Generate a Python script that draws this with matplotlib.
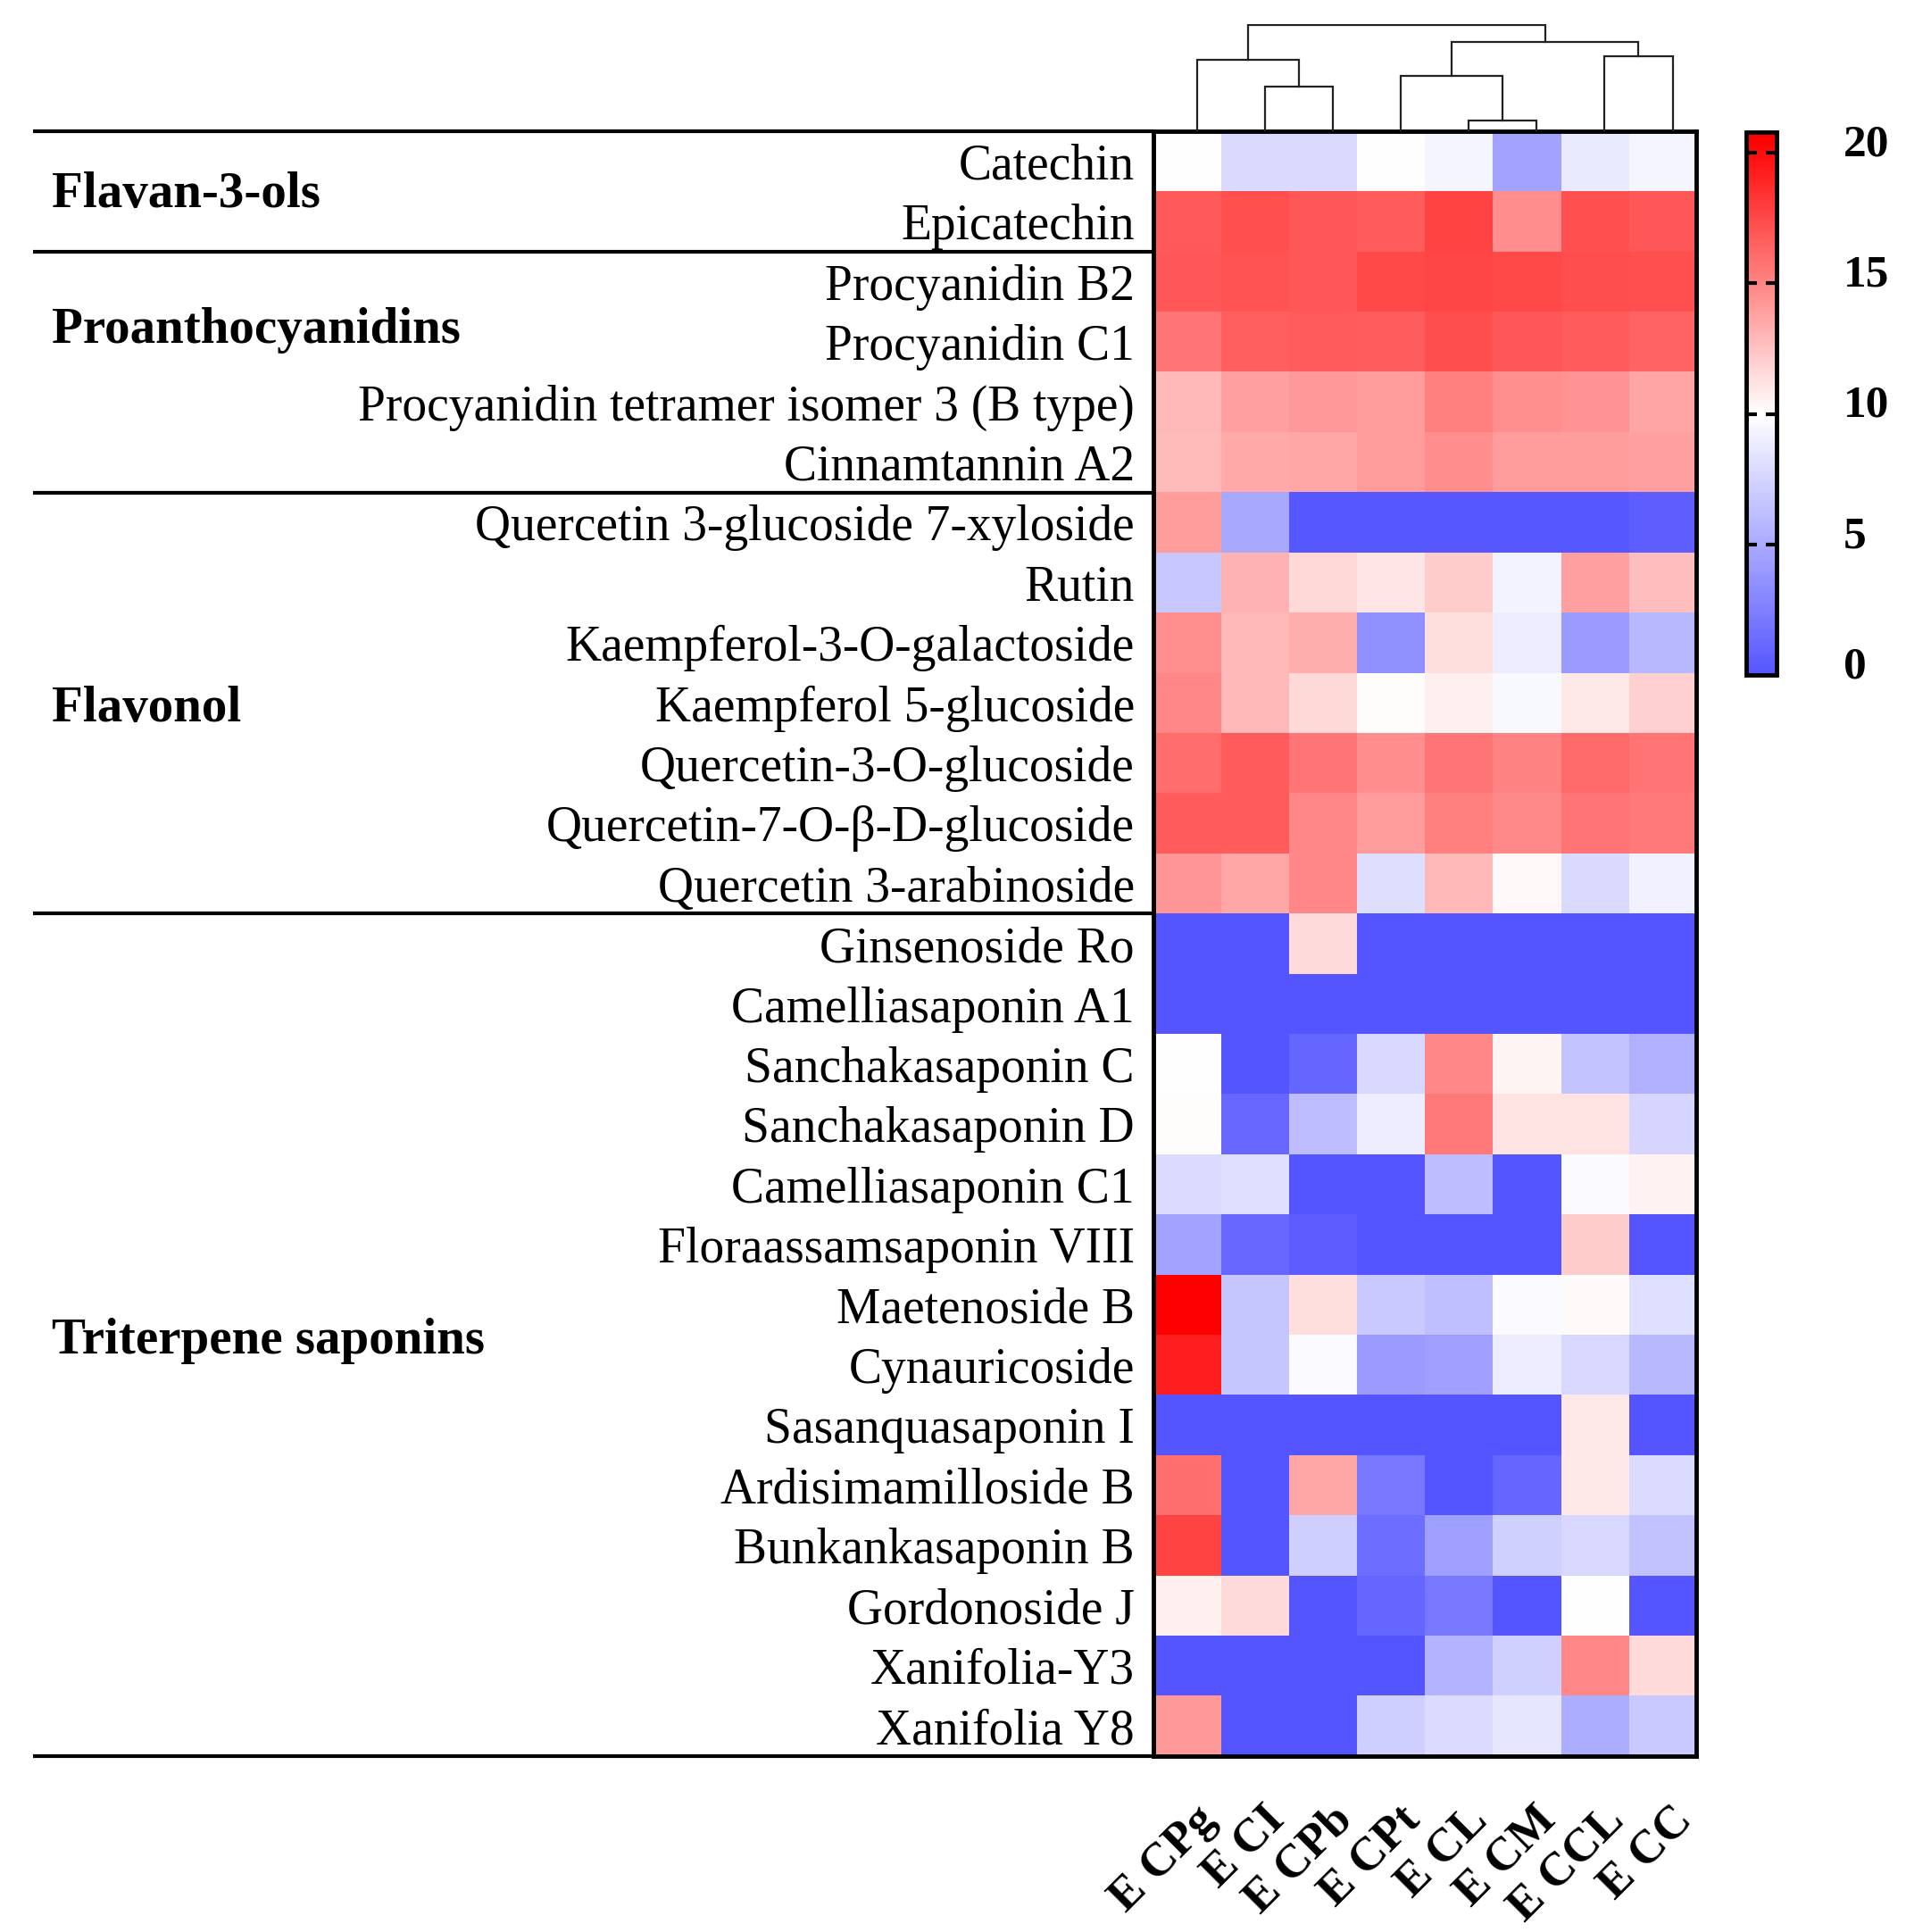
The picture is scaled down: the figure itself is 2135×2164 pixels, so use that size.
import numpy as np
import matplotlib
matplotlib.use("Agg")
import matplotlib.pyplot as plt
from matplotlib.colors import LinearSegmentedColormap
import matplotlib.transforms as mtransforms

plt.rcParams['font.family'] = ['Liberation Serif', 'DejaVu Serif']

# samples (columns) in dendrogram order
samples = ["E CPg", "E CI", "E CPb", "E CPt", "E CL", "E CM", "E CCL", "E CC"]

compounds = [
    "Catechin", "Epicatechin",
    "Procyanidin B2", "Procyanidin C1", "Procyanidin tetramer isomer 3 (B type)",
    "Cinnamtannin A2",
    "Quercetin 3-glucoside 7-xyloside", "Rutin", "Kaempferol-3-O-galactoside",
    "Kaempferol 5-glucoside", "Quercetin-3-O-glucoside",
    "Quercetin-7-O-β-D-glucoside", "Quercetin 3-arabinoside",
    "Ginsenoside Ro", "Camelliasaponin A1", "Sanchakasaponin C",
    "Sanchakasaponin D", "Camelliasaponin C1", "Floraassamsaponin VIII",
    "Maetenoside B", "Cynauricoside", "Sasanquasaponin I",
    "Ardisimamilloside B", "Bunkankasaponin B", "Gordonoside J",
    "Xanifolia-Y3", "Xanifolia Y8",
]

groups = ["Flavan-3-ols", "Proanthocyanidins", "Flavonol", "Triterpene saponins"]
group_sizes = [2, 4, 7, 14]

values = np.array([
    [10.0, 7.8, 7.8, 10.0, 9.5, 4.6, 8.8, 9.5],
    [16.8, 17.2, 16.9, 16.7, 17.7, 14.7, 17.2, 16.9],
    [16.9, 17.0, 16.9, 17.4, 17.6, 17.4, 17.3, 17.2],
    [15.6, 16.5, 16.7, 16.6, 17.3, 16.9, 16.7, 16.4],
    [12.9, 13.9, 14.2, 14.1, 15.2, 14.6, 14.4, 13.7],
    [12.8, 13.5, 13.6, 14.1, 14.7, 14.1, 14.0, 13.9],
    [14.0, 4.9, 0.2, 0.2, 0.2, 0.2, 0.2, 0.6],
    [6.8, 13.1, 11.6, 11.0, 12.1, 9.3, 13.9, 12.6],
    [14.6, 12.9, 13.3, 3.5, 11.3, 9.0, 4.2, 5.9],
    [14.9, 12.9, 11.6, 10.1, 10.6, 9.6, 10.9, 11.9],
    [16.0, 16.7, 15.6, 14.7, 15.6, 15.1, 16.1, 15.6],
    [16.7, 16.7, 14.9, 14.1, 15.2, 14.8, 15.6, 15.5],
    [14.3, 13.6, 14.9, 8.1, 12.9, 10.3, 7.8, 9.2],
    [0.0, 0.0, 11.5, 0.0, 0.0, 0.0, 0.0, 0.0],
    [0.0, 0.0, 0.0, 0.0, 0.0, 0.0, 0.0, 0.0],
    [10.0, 0.0, 1.0, 7.7, 14.9, 10.4, 6.5, 5.4],
    [10.1, 1.1, 6.1, 9.0, 15.5, 11.2, 11.2, 7.6],
    [7.9, 8.2, 0.0, 0.0, 6.2, 0.0, 9.8, 10.5],
    [4.6, 1.1, 0.5, 0.0, 0.0, 0.0, 12.1, 0.0],
    [20.5, 6.7, 11.3, 6.9, 6.3, 9.7, 10.2, 8.2],
    [19.2, 6.7, 9.7, 4.2, 4.4, 9.0, 7.7, 5.9],
    [0.0, 0.0, 0.0, 0.0, 0.0, 0.0, 10.9, 0.0],
    [15.9, 0.0, 13.6, 2.1, 0.0, 1.0, 10.9, 7.9],
    [17.7, 0.0, 7.2, 1.5, 4.4, 7.3, 7.7, 6.4],
    [10.6, 11.5, 0.0, 1.0, 2.1, 0.0, 10.0, 0.0],
    [0.0, 0.0, 0.0, 0.0, 5.6, 7.3, 14.9, 11.5],
    [14.2, 0.0, 0.0, 7.2, 7.9, 8.6, 5.2, 6.9],
])

# column dendrogram: (child a, child b, height), new cluster ids start at 8
merges = [
    (4, 5, 11.7),
    (1, 2, 50.0),
    (3, 8, 61.7),
    (0, 9, 80.0),
    (6, 7, 83.4),
    (10, 12, 100.0),
    (11, 13, 118.4),
]

cbar_ticks = [0, 5, 10, 15, 20]

# ---- figure ----
fig = plt.figure(figsize=(21.35, 21.64), dpi=100)

vmin, vmax = 0.0, 20.8
cmap = LinearSegmentedColormap.from_list(
    "bwr_prism",
    [(0.0, "#5555FF"), (10.0 / vmax, "#FFFFFF"), (20.5 / vmax, "#FF0000"), (1.0, "#FF0000")],
)

hm_left, hm_bottom, hm_w, hm_h = 0.605, 0.091, 0.285, 0.841
ax = fig.add_axes([hm_left, hm_bottom, hm_w, hm_h])
im = ax.imshow(values, cmap=cmap, vmin=vmin, vmax=vmax, aspect="auto",
               interpolation="nearest")
n_rows, n_cols = values.shape

ax.set_xticks([])
ax.set_yticks(range(n_rows))
ax.set_yticklabels(compounds, fontsize=40)
ax.tick_params(axis="y", length=0, pad=15)
for sp in ax.spines.values():
    sp.set_linewidth(3.5)

# sample labels, rotated
for j, s in enumerate(samples):
    ax.text(j + 0.33, n_rows - 0.5 + 0.95, s, rotation=45, ha="right", va="center",
            rotation_mode="anchor", fontsize=38, fontweight="bold", clip_on=False)

# group separator lines and group labels
trans = mtransforms.blended_transform_factory(fig.transFigure, ax.transData)
bounds = np.concatenate([[0], np.cumsum(group_sizes)]) - 0.5
for b in bounds:
    ax.plot([0.0174, hm_left], [b, b], color="black", lw=3, transform=trans,
            clip_on=False, solid_capstyle="butt")
group_label_rows = [0.55, 2.8, 9.1, 19.6]
for g, yy in zip(groups, group_label_rows):
    ax.text(0.0271, yy, g, transform=trans, fontsize=41, fontweight="bold",
            ha="left", va="center")
ax.set_xlim(-0.5, n_cols - 0.5)
ax.set_ylim(n_rows - 0.5, -0.5)

# ---- dendrogram ----
dax = fig.add_axes([hm_left, hm_bottom + hm_h, hm_w, 120 / 2164])
pos = {i: i + 0.15 for i in range(n_cols)}
hgt = {i: 0.0 for i in range(n_cols)}
for k, (a, b, h) in enumerate(merges):
    xa, xb = pos[a], pos[b]
    dax.plot([xa, xa, xb, xb], [hgt[a], h, h, hgt[b]], color="#222222", lw=1.6,
             solid_joinstyle="miter")
    pos[n_cols + k] = (xa + xb) / 2
    hgt[n_cols + k] = h
dax.set_xlim(-0.5, n_cols - 0.5)
dax.set_ylim(0, 119.5)
dax.axis("off")

# ---- colorbar ----
cax = fig.add_axes([0.916, 0.6505, 0.016, 0.2813])
cb = fig.colorbar(im, cax=cax)
cb.set_ticks([])
cb.outline.set_linewidth(3.5)
for t in cbar_ticks:
    cax.text(1.0, t + 0.3, str(t), transform=mtransforms.blended_transform_factory(
        cax.transAxes, cax.transData), fontsize=37, fontweight="bold",
        ha="left", va="center")
for t in cbar_ticks[1:]:
    cax.hlines(t, 0, 0.35, colors="black", lw=3)
    cax.hlines(t, 0.65, 1, colors="black", lw=3)
# shift colorbar labels to the right of the bar
for txt in cax.texts:
    txt.set_x(3.2)

fig.savefig("out.png", dpi=100)
